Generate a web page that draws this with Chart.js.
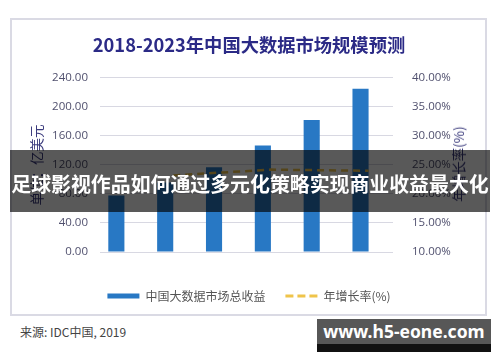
<!DOCTYPE html>
<html lang="zh">
<head>
<meta charset="UTF-8">
<title>2018-2023年中国大数据市场规模预测</title>
<script src="https://cdn.jsdelivr.net/npm/chart.js@4.4.0/dist/chart.umd.min.js"></script>
<style>
  body { margin: 0; background: #fff; font-family: "Noto Sans CJK SC", "Open Sans", sans-serif; }
  .page { position: relative; width: 500px; height: 362px; overflow: hidden; background: #fff; }
  .frame { position: absolute; left: 10px; top: 18px; width: 477px; height: 298px; box-sizing: border-box; border: 2px solid #dadae4; }
  .chart-box { position: absolute; left: 0; top: 0; width: 500px; height: 315px; }
  .rate-title { position: absolute; left: 458px; top: 164px; transform: translate(-50%, -50%) rotate(-90deg);
    white-space: nowrap; font-size: 13.5px; color: #3a3a7c; }
  .banner { position: absolute; left: 10px; top: 150px; width: 480px; height: 62px; background: rgba(0, 0, 0, 0.65);
    color: #fff; font-weight: 700; font-size: 19.9px; line-height: 62px; padding-top: 3px; box-sizing: border-box;
    text-align: center; white-space: nowrap; }
  .source { position: absolute; left: 20px; top: 323px; font-size: 12px; color: #444; }
  .mark { position: absolute; left: 317px; top: 319px; width: 174px; height: 33px; box-sizing: border-box;
    background: #575757; border-bottom: 8px solid #111; color: #fff; font-family: "Noto Sans", sans-serif;
    font-weight: 700; font-size: 17.5px; line-height: 25px; text-align: center; }
</style>
</head>
<body>
<div class="page">
  <div class="frame"></div>
  <div class="chart-box"><canvas id="chart" width="500" height="315"></canvas></div>
  <div class="rate-title">年增长率(%)</div>
  <div class="banner">足球影视作品如何通过多元化策略实现商业收益最大化</div>
  <div class="source">来源: IDC中国, 2019</div>
  <div class="mark">www.h5-eone.com</div>
</div>

<script>
  // data
  const years = ['2018', '2019', '2020', '2021', '2022', '2023'];
  const revenue = [78, 96, 117, 147, 182, 225];          // 亿美元
  const growthRate = [null, 23.2, 23.7, 24.2, 24.1, 24.0]; // %
  const spacer = [null, null, null, null, null, null];   // empty slot, keeps bars left of the labels
  const revenueTicks = [0, 40, 80, 120, 160, 200, 240];
  const rateTicks = [10, 15, 20, 25, 30, 35, 40];

  const blue = '#2878c4';
  const gold = '#efc44a';
  const tickColor = '#50506e';
  const tickFont = { family: 'Open Sans', size: 11.5 };

  new Chart(document.getElementById('chart'), {
    type: 'bar',
    data: {
      labels: years,
      datasets: [
        {
          type: 'line',
          label: '年增长率(%)',
          data: growthRate,
          yAxisID: 'y1',
          borderColor: gold,
          borderWidth: 2.5,
          borderDash: [7, 5],
          pointRadius: 0,
          fill: false,
          order: 0
        },
        {
          label: '中国大数据市场总收益',
          data: revenue,
          yAxisID: 'y',
          backgroundColor: blue,
          categoryPercentage: 0.66,
          barPercentage: 1,
          order: 1
        },
        {
          label: '',
          data: spacer,
          yAxisID: 'y',
          backgroundColor: 'transparent',
          categoryPercentage: 0.66,
          barPercentage: 1,
          order: 2
        }
      ]
    },
    options: {
      responsive: false,
      animation: false,
      layout: { padding: { left: 4, right: 6, top: 0, bottom: 3 } },
      plugins: {
        tooltip: { enabled: false },
        title: {
          display: true,
          text: '2018-2023年中国大数据市场规模预测',
          color: '#2b2a86',
          font: { family: 'Noto Sans CJK SC', size: 18.3, weight: 'bold' },
          padding: { top: 34, bottom: 22 }
        },
        legend: {
          position: 'bottom',
          labels: {
            usePointStyle: true,
            pointStyleWidth: 32,
            boxHeight: 5,
            padding: 20,
            color: '#555',
            font: { family: 'Noto Sans CJK SC', size: 12 },
            generateLabels: () => [
              { text: '中国大数据市场总收益', fillStyle: blue, strokeStyle: blue, lineWidth: 0,
                pointStyle: 'rect', datasetIndex: 1, fontColor: '#555' },
              { text: '年增长率(%)', fillStyle: gold, strokeStyle: gold, lineWidth: 3, lineDash: [8, 4],
                pointStyle: 'line', datasetIndex: 0, fontColor: '#555' }
            ]
          }
        }
      },
      scales: {
        x: {
          offset: true,
          grid: { display: false },
          border: { display: false },
          ticks: { color: tickColor, font: tickFont, padding: 10 },
          afterFit: s => { s.height = 18; }
        },
        y: {
          position: 'left',
          min: 0,
          max: 240,
          afterBuildTicks: s => { s.ticks = revenueTicks.map(v => ({ value: v })); },
          ticks: { color: tickColor, font: tickFont, padding: 12, callback: v => v.toFixed(2) },
          grid: { color: '#d8d8e2', drawTicks: false },
          border: { display: false },
          title: {
            display: true,
            text: '单位：亿美元',
            color: '#3a3a7c',
            font: { family: 'Noto Sans CJK SC', size: 13.5 },
            padding: { top: 25, bottom: 0 }
          },
          afterFit: s => { s.width = 96; }
        },
        y1: {
          position: 'right',
          min: 10,
          max: 40,
          afterBuildTicks: s => { s.ticks = rateTicks.map(v => ({ value: v })); },
          ticks: { color: tickColor, font: tickFont, padding: 11, callback: v => v.toFixed(2) + '%' },
          grid: { display: false },
          border: { display: false },
          afterFit: s => { s.width = 101; }
        }
      }
    }
  });
</script>
</body>
</html>
